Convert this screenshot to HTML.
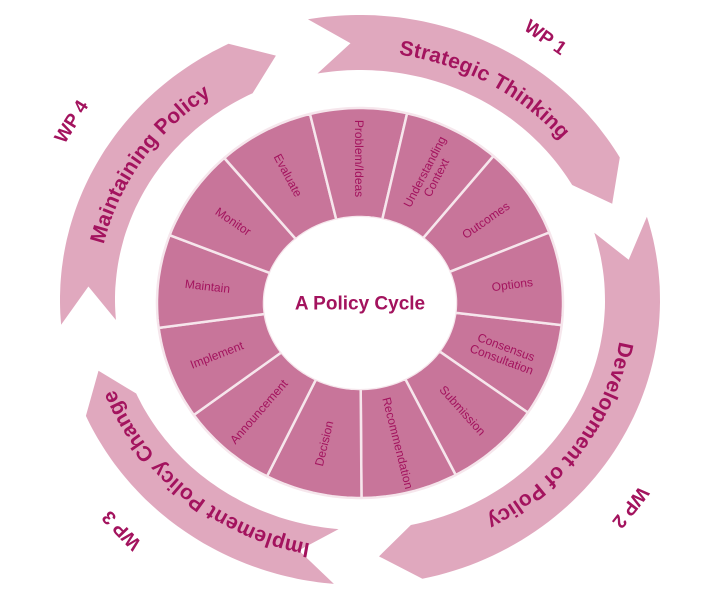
<!DOCTYPE html>
<html><head><meta charset="utf-8">
<style>
html,body{margin:0;padding:0;background:#fff;width:705px;height:603px;overflow:hidden}
svg{display:block}
text{font-family:"Liberation Sans",Arial,sans-serif;fill:#a3135e}
</style></head>
<body>
<svg id="s" width="705" height="603" viewBox="0 0 705 603" xmlns="http://www.w3.org/2000/svg"></svg>
<script>
var NS="http://www.w3.org/2000/svg",s=document.getElementById('s');
function el(t,a,p){var e=document.createElementNS(NS,t);for(var k in a)e.setAttribute(k,a[k]);(p||s).appendChild(e);return e;}
var R=Math.PI/180;
function P(cx,cy,rx,ry,a){return [cx+rx*Math.cos(a*R),cy+ry*Math.sin(a*R)];}
function arcPts(cx,cy,rx,ry,a1,a2,n){var r=[];for(var i=0;i<=n;i++){var a=a1+(a2-a1)*i/n;r.push(P(cx,cy,rx,ry,a));}return r;}
function ptsStr(p){return p.map(function(q){return q[0].toFixed(1)+","+q[1].toFixed(1);}).join(" ");}
var OC=[360,300],ORX=300,ORY=285,IRX=245,IRY=230,MRX=272,MRY=257;
var arrows=[
 [-100,-30,"Strategic Thinking"],
 [-17,78,"Development of Policy"],
 [95,156,"Implement Policy Change"],
 [175,244,"Maintaining Policy"]];
var defs=el('defs',{});
arrows.forEach(function(A,i){
  var a1=A[0],a2=A[1],d=8;
  var pts=arcPts(OC[0],OC[1],ORX,ORY,a1,a2,60);
  pts.push(P(OC[0],OC[1],MRX,MRY,a2+d));
  pts=pts.concat(arcPts(OC[0],OC[1],IRX,IRY,a2,a1,60));
  pts.push(P(OC[0],OC[1],MRX,MRY,a1+d));
  el('polygon',{points:ptsStr(pts),fill:'#e0a8be'});
  var tp=arcPts(OC[0],OC[1],MRX-2,MRY-2,a1+3,a2+6,60);
  var dstr="M"+tp.map(function(q){return q[0].toFixed(1)+" "+q[1].toFixed(1);}).join(" L");
  el('path',{id:'tp'+i,d:dstr,fill:'none'},defs);
  var t=el('text',{'font-size':'21','font-weight':'bold','dominant-baseline':'central','text-anchor':'middle','letter-spacing':'0.5'});
  var tpp=el('textPath',{href:'#tp'+i,startOffset:'50%'},t);
  tpp.setAttributeNS("http://www.w3.org/1999/xlink","xlink:href","#tp"+i);
  tpp.textContent=A[2];
});
[["WP 1",545,38,35],["WP 2",630,507,128],["WP 3",122,530,226],["WP 4",72,122,-58]].forEach(function(w){
  var t=el('text',{x:w[1],y:w[2],'font-size':'19','font-weight':'bold','text-anchor':'middle','dominant-baseline':'central',transform:'rotate('+w[3]+' '+w[1]+' '+w[2]+')'});
  t.textContent=w[0];
});
var WC=[360,303],WRX=203,WRY=195,WIX=96,WIY=86;
var n=13,step=360/n,start=6.5;
for(var i=0;i<n;i++){
  var a1=start+i*step,a2=a1+step;
  var p=arcPts(WC[0],WC[1],WRX,WRY,a1,a2,20).concat(arcPts(WC[0],WC[1],WIX,WIY,a2,a1,20));
  el('polygon',{points:ptsStr(p),fill:'#c8759a',stroke:'#f6e6ec','stroke-width':'2.5','stroke-linejoin':'round'});
}
el('ellipse',{cx:WC[0],cy:WC[1],rx:WIX,ry:WIY,fill:'#fff'});
var labs=[
 [["Options"],-7.3],
 [["Consensus","Consultation"],20.4],
 [["Submission"],48.1],
 [["Recommendation"],75.8],
 [["Decision"],103.5],
 [["Announcement"],131.2],
 [["Implement"],158.9],
 [["Maintain"],186.6],
 [["Monitor"],214.3],
 [["Evaluate"],242],
 [["Problem/Ideas"],269.7],
 [["Understanding","Context"],297.4],
 [["Outcomes"],325.1]];
labs.forEach(function(L){
  var a=L[1];
  var c=P(WC[0],WC[1],(WRX+WIX)/2+4,(WRY+WIY)/2+4,a);
  var rot=(a>90&&a<=270)?a-180:a;
  if(a>=269&&a<271)rot=90;
  var t=el('text',{'font-size':'12','text-anchor':'middle',transform:'translate('+c[0].toFixed(1)+' '+c[1].toFixed(1)+') rotate('+rot.toFixed(1)+')'});
  var lines=L[0],lh=13,y0=-(lines.length-1)*lh/2;
  lines.forEach(function(ln,j){var ts=el('tspan',{x:0,y:(y0+j*lh+4).toFixed(1)},t);ts.textContent=ln;});
});
var ct=el('text',{x:WC[0],y:WC[1]+1,'font-size':'19','font-weight':'bold','text-anchor':'middle','dominant-baseline':'central'});
ct.textContent="A Policy Cycle";
</script>
</body></html>
